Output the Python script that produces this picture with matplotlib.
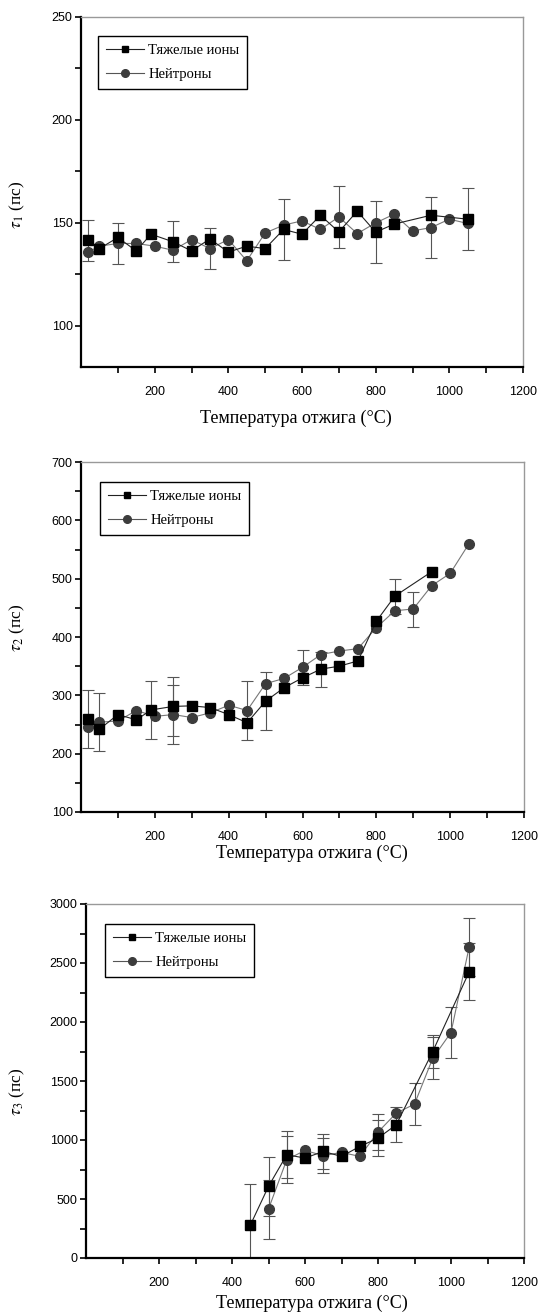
import numpy as np
import matplotlib
matplotlib.use("Agg")
import matplotlib.pyplot as plt
from matplotlib.ticker import MultipleLocator, FixedLocator

# ---------------- data ----------------
series_names = ["Тяжелые ионы", "Нейтроны"]
xlabel_text = "Температура отжига (°C)"
ylabels = [r"$\tau_1$ (пс)", r"$\tau_2$ (пс)", r"$\tau_3$ (пс)"]

# panel 1: tau1
t1_ions_x = [20, 50, 100, 150, 190, 250, 300, 350, 400, 450, 500, 550, 600, 650, 700, 750, 800, 850, 950, 1050]
t1_ions_y = [141.6, 137.5, 142.9, 136.4, 144.5, 140.8, 136.4, 142.2, 135.8, 138.7, 137.5, 146.8, 144.5, 153.7, 145.6, 155.7, 145.5, 149.4, 153.7, 151.8]
t1_ions_err = [10, 0, 0, 0, 0, 10, 0, 0, 0, 0, 0, 15, 0, 0, 0, 0, 15, 0, 0, 15]
t1_neut_x = [20, 50, 100, 150, 200, 250, 300, 350, 400, 450, 500, 550, 600, 650, 700, 750, 800, 850, 900, 950, 1000, 1050]
t1_neut_y = [135.9, 138.7, 140.0, 140.0, 138.7, 136.7, 141.9, 137.5, 141.9, 131.6, 145.1, 148.9, 151.0, 146.8, 152.9, 144.8, 150.0, 154.2, 146.1, 147.7, 151.8, 149.7]
t1_neut_err = [0, 0, 10, 0, 0, 0, 0, 10, 0, 0, 0, 0, 0, 0, 15, 0, 0, 0, 0, 15, 0, 0]

# panel 2: tau2
t2_ions_x = [20, 50, 100, 150, 190, 250, 300, 350, 400, 450, 500, 550, 600, 650, 700, 750, 800, 850, 950]
t2_ions_y = [260, 242, 267, 258, 275, 281, 282, 279, 267, 253, 290, 313, 330, 345, 350, 359, 427, 470, 512]
t2_ions_err = [50, 0, 0, 0, 50, 50, 0, 0, 0, 0, 50, 0, 0, 30, 0, 0, 0, 30, 0]
t2_neut_x = [20, 50, 100, 150, 200, 250, 300, 350, 400, 450, 500, 550, 600, 650, 700, 750, 800, 850, 900, 950, 1000, 1050]
t2_neut_y = [246, 254, 256, 274, 264, 267, 262, 270, 283, 274, 320, 329, 348, 370, 376, 380, 416, 445, 448, 488, 509, 559]
t2_neut_err = [0, 50, 0, 0, 0, 50, 0, 0, 0, 50, 0, 0, 30, 0, 0, 0, 0, 0, 30, 0, 0, 0]

# panel 3: tau3
t3_ions_x = [450, 500, 550, 600, 650, 700, 750, 800, 850, 950, 1050]
t3_ions_y = [277, 607, 875, 847, 903, 861, 945, 1016, 1129, 1750, 2427]
t3_ions_err = [350, 250, 200, 0, 150, 0, 0, 150, 150, 140, 240]
t3_neut_x = [500, 550, 600, 650, 700, 750, 800, 850, 900, 950, 1000, 1050]
t3_neut_y = [415, 833, 912, 867, 895, 861, 1067, 1228, 1304, 1693, 1911, 2639]
t3_neut_err = [250, 200, 0, 150, 0, 0, 150, 0, 175, 180, 212, 245]

panels = [
    dict(ions=(t1_ions_x, t1_ions_y, t1_ions_err), neut=(t1_neut_x, t1_neut_y, t1_neut_err),
         ylim=(80, 250), ymajor=[100, 150, 200, 250], yminor=25),
    dict(ions=(t2_ions_x, t2_ions_y, t2_ions_err), neut=(t2_neut_x, t2_neut_y, t2_neut_err),
         ylim=(100, 700), ymajor=[100, 200, 300, 400, 500, 600, 700], yminor=50),
    dict(ions=(t3_ions_x, t3_ions_y, t3_ions_err), neut=(t3_neut_x, t3_neut_y, t3_neut_err),
         ylim=(0, 3000), ymajor=[0, 500, 1000, 1500, 2000, 2500, 3000], yminor=250),
]

# ---------------- layout (pixels) ----------------
W, H = 539, 1313
plt.rcParams["mathtext.fontset"] = "stix"
fig = plt.figure(figsize=(W / 100, H / 100), dpi=100)

# (left, top, right, bottom) px
boxes = [(81, 17, 523, 367), (81, 462, 524, 812), (86, 904, 524, 1258)]
xlabel_pos = [(296, 418), (312, 853), (312, 1303)]
ylabel_pos = [(17, 205), (17, 628), (17, 1092)]
legend_pos = [(98, 36), (100, 482), (105, 924)]

serif = ["Liberation Serif", "DejaVu Serif"]
tickfont = ["Liberation Sans Narrow", "Liberation Sans", "DejaVu Sans"]

for i, p in enumerate(panels):
    l, t, r, b = boxes[i]
    ax = fig.add_axes([l / W, 1 - b / H, (r - l) / W, (b - t) / H])
    for key, marker, mcol, lcol, ms in [("ions", "s", "black", "#222222", 7.0),
                                         ("neut", "o", "#3c3c3c", "#777777", 7.0)]:
        x, y, e = p[key]
        x = np.asarray(x, float); y = np.asarray(y, float); e = np.asarray(e, float)
        m = e > 0
        ax.errorbar(x[m], y[m], yerr=e[m], fmt="none", ecolor="#555555",
                    elinewidth=0.8, capsize=4.5, capthick=0.8, zorder=1)
        ax.plot(x, y, color=lcol, lw=0.8, marker=marker, ms=ms, mfc=mcol,
                mec=mcol, zorder=3 if key == "ions" else 2)
    h1, = ax.plot([], [], color="#222222", lw=0.8, marker="s", ms=5, mfc="black", mec="black")
    h2, = ax.plot([], [], color="#555555", lw=0.8, marker="o", ms=5.5, mfc="#3c3c3c", mec="#3c3c3c")
    lx, ly = legend_pos[i]
    leg = ax.legend([h1, h2], series_names, loc="upper left",
                    bbox_to_anchor=((lx - l) / (r - l), 1 - (ly - t) / (b - t)),
                    borderaxespad=0, frameon=True, fancybox=False, framealpha=1,
                    edgecolor="black", handlelength=2.6, handletextpad=0.3,
                    borderpad=0.55, labelspacing=0.75,
                    prop=dict(family=serif, size=10.5))
    leg.get_frame().set_linewidth(1.0)

    ax.set_xlim(0, 1200)
    ax.set_ylim(*p["ylim"])
    ax.xaxis.set_major_locator(FixedLocator([200, 400, 600, 800, 1000, 1200]))
    ax.xaxis.set_minor_locator(FixedLocator([100, 300, 500, 700, 900, 1100]))
    ax.yaxis.set_major_locator(FixedLocator(p["ymajor"]))
    ax.yaxis.set_minor_locator(MultipleLocator(p["yminor"]))
    ax.tick_params(axis="both", which="both", direction="out", width=1.2,
                   color="black", length=4.5)
    ax.tick_params(axis="x", pad=9)
    ax.tick_params(axis="y", pad=1.5)
    for lab in ax.get_xticklabels() + ax.get_yticklabels():
        lab.set_family(tickfont)
        lab.set_fontsize(9)
    for s in ["left", "bottom"]:
        ax.spines[s].set_linewidth(1.6)
        ax.spines[s].set_color("black")
    for s in ["top", "right"]:
        ax.spines[s].set_linewidth(1.0)
        ax.spines[s].set_color("#999999")

    xp, yp = xlabel_pos[i]
    fig.text(xp / W, 1 - yp / H, xlabel_text, ha="center", va="center",
             family=serif, fontsize=13)
    xp, yp = ylabel_pos[i]
    fig.text(xp / W, 1 - yp / H, ylabels[i], ha="center", va="center",
             rotation=90, family=serif, fontsize=12.5)

fig.savefig("out.png", dpi=100)
